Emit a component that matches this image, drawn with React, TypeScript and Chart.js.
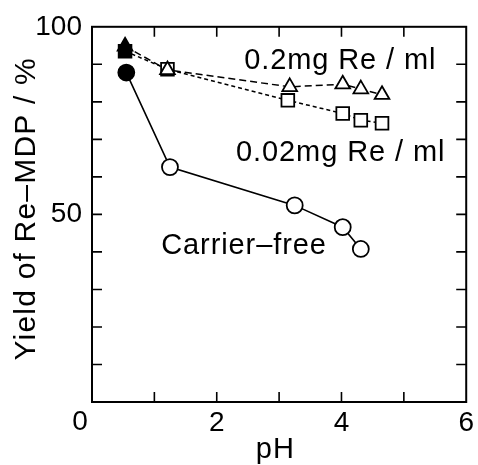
import React, { useEffect, useRef } from "react";
import { Chart, registerables } from "chart.js";

Chart.register(...registerables);

// Yield of Re-MDP (%) against pH for three rhenium concentrations
const carrierFreePH = [0.55, 1.25, 3.25, 4.02, 4.31];
const carrierFreeYield = [87.8, 62.6, 52.4, 46.6, 40.8];

const re02PH = [0.53, 1.21, 3.17, 4.02, 4.31, 4.65];
const re02Yield = [94.8, 88.5, 84.0, 84.7, 83.4, 81.9];

const re002PH = [0.53, 1.21, 3.14, 4.02, 4.31, 4.65];
const re002Yield = [93.5, 88.7, 80.4, 76.9, 75.1, 74.3];

const seriesNames = ["0.2mg Re / ml", "0.02mg Re / ml", "Carrier–free"];

const xMin = 0;
const xMax = 6;
const yMin = 0;
const yMax = 100;

const FONT = '"Liberation Sans", Arial, Helvetica, sans-serif';

const toPoints = (xs: number[], ys: number[]) =>
  xs.map((x, i) => ({ x, y: ys[i] }));

// first point of each series is drawn solid black
const firstFilled = (n: number) =>
  Array.from({ length: n }, (_, i) => (i === 0 ? "#000" : "#fff"));

// text anchors in data units: [pH, yield] of each label's left baseline
const nameAnchors: [number, number][] = [
  [2.44, 88.7],
  [2.31, 64.1],
  [1.11, 39.5],
];

const framePlugin = {
  id: "frameAndText",
  afterDatasetsDraw(chart: any) {
    const { ctx, chartArea: a, scales } = chart;
    const xs = scales.x;
    const ys = scales.y;
    const T = 10;
    ctx.save();
    ctx.strokeStyle = "#000";
    ctx.lineWidth = 2;
    ctx.strokeRect(a.left, a.top, a.right - a.left, a.bottom - a.top);
    ctx.lineWidth = 1.6;
    ctx.beginPath();
    for (let v = xMin + 1; v < xMax; v++) {
      const px = xs.getPixelForValue(v);
      ctx.moveTo(px, a.bottom);
      ctx.lineTo(px, a.bottom - T);
      ctx.moveTo(px, a.top);
      ctx.lineTo(px, a.top + T);
    }
    for (let v = yMin + 10; v < yMax; v += 10) {
      const py = ys.getPixelForValue(v);
      ctx.moveTo(a.left, py);
      ctx.lineTo(a.left + T, py);
      ctx.moveTo(a.right, py);
      ctx.lineTo(a.right - T, py);
    }
    ctx.stroke();

    ctx.fillStyle = "#000";
    (ctx as any).letterSpacing = "0.9px";
    ctx.font = `29px ${FONT}`;
    ctx.textAlign = "left";
    ctx.textBaseline = "alphabetic";
    seriesNames.forEach((name, i) => {
      const [px, py] = nameAnchors[i];
      ctx.fillText(name, xs.getPixelForValue(px), ys.getPixelForValue(py));
    });

    // shared origin label
    (ctx as any).letterSpacing = "0px";
    ctx.font = `28px ${FONT}`;
    ctx.textAlign = "center";
    ctx.fillText("0", a.left - 12, a.bottom + 28);

    // axis titles
    (ctx as any).letterSpacing = "1px";
    ctx.font = `29px ${FONT}`;
    ctx.fillText("pH", xs.getPixelForValue(2.94), a.bottom + 56);

    (ctx as any).letterSpacing = "1.2px";
    ctx.font = `30px ${FONT}`;
    ctx.translate(35, ys.getPixelForValue(51.5));
    ctx.rotate(-Math.PI / 2);
    ctx.fillText("Yield of Re–MDP / %", 0, 0);
    ctx.restore();
  },
};

export default function App() {
  const canvasRef = useRef<HTMLCanvasElement | null>(null);

  useEffect(() => {
    const canvas = canvasRef.current;
    if (!canvas) return;
    const chart = new Chart(canvas, {
      type: "scatter",
      data: {
        datasets: [
          {
            label: seriesNames[0],
            data: toPoints(re02PH, re02Yield),
            showLine: true,
            borderColor: "#000",
            borderWidth: 1.5,
            borderDash: [7, 4],
            pointStyle: "triangle",
            pointRadius: 8.5,
            pointBorderWidth: 1.8,
            pointBorderColor: "#000",
            pointBackgroundColor: firstFilled(re02PH.length),
          },
          {
            label: seriesNames[1],
            data: toPoints(re002PH, re002Yield),
            showLine: true,
            borderColor: "#000",
            borderWidth: 1.5,
            borderDash: [4, 3],
            pointStyle: "rect",
            pointRadius: 9,
            pointBorderWidth: 1.8,
            pointBorderColor: "#000",
            pointBackgroundColor: firstFilled(re002PH.length),
          },
          {
            label: seriesNames[2],
            data: toPoints(carrierFreePH, carrierFreeYield),
            showLine: true,
            borderColor: "#000",
            borderWidth: 1.6,
            pointStyle: "circle",
            pointRadius: 8,
            pointBorderWidth: 1.8,
            pointBorderColor: "#000",
            pointBackgroundColor: firstFilled(carrierFreePH.length),
          },
        ],
      },
      options: {
        responsive: false,
        animation: false,
        layout: { padding: { top: 20, right: 9, left: 0, bottom: 0 } },
        plugins: {
          legend: { display: false },
          tooltip: { enabled: false },
        },
        scales: {
          x: {
            type: "linear",
            min: xMin,
            max: xMax,
            grid: { display: false, drawTicks: false },
            border: { display: false },
            ticks: {
              stepSize: 2,
              padding: 4,
              color: "#000",
              font: { family: FONT, size: 28 },
              callback: (v: any) => (Number(v) === 0 ? "" : String(v)),
            },
            afterFit: (s: any) => {
              s.height = 63;
            },
          },
          y: {
            type: "linear",
            min: yMin,
            max: yMax,
            grid: { display: false, drawTicks: false },
            border: { display: false },
            ticks: {
              stepSize: 50,
              padding: 10,
              color: "#000",
              font: { family: FONT, size: 28 },
              callback: (v: any) => (Number(v) === 0 ? "" : String(v)),
            },
            afterFit: (s: any) => {
              s.width = 92;
            },
          },
        },
      },
      plugins: [framePlugin],
    });
    return () => chart.destroy();
  }, []);

  return (
    <div
      style={{
        position: "absolute",
        left: 0,
        top: 0,
        width: 478,
        height: 465,
        background: "#fff",
      }}
    >
      <canvas ref={canvasRef} width={478} height={465} />
    </div>
  );
}
